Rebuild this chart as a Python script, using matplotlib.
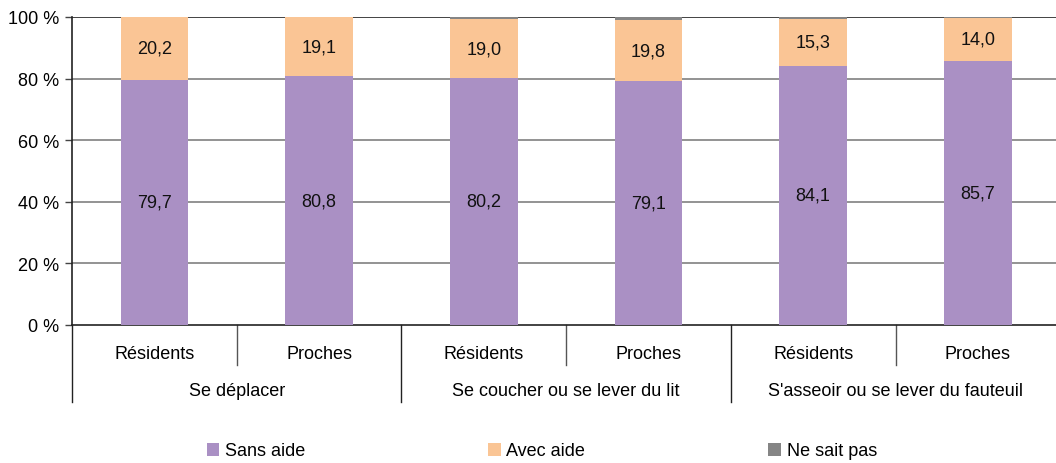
import matplotlib.pyplot as plt
from matplotlib import font_manager
from matplotlib.transforms import blended_transform_factory

# police étroite si disponible
names = {f.name for f in font_manager.fontManager.ttflist}
narrow = 'Liberation Sans Narrow' if 'Liberation Sans Narrow' in names else 'Liberation Sans'
plt.rcParams['font.family'] = [narrow, 'DejaVu Sans']
plt.rcParams['font.size'] = 13

groupes = ["Se déplacer", "Se coucher ou se lever du lit", "S'asseoir ou se lever du fauteuil"]
sous_cat = ["Résidents", "Proches"] * 3
sans_aide = [79.7, 80.8, 80.2, 79.1, 84.1, 85.7]
avec_aide = [20.2, 19.1, 19.0, 19.8, 15.3, 14.0]
ne_sait_pas = [0.1, 0.1, 0.8, 1.1, 0.6, 0.3]

fig = plt.figure(figsize=(10.56, 4.64), dpi=100)
ax = fig.add_axes([72 / 1056, 1 - 326 / 464, 1 - 72 / 1056 + 0.004, 308 / 464])

x = list(range(len(sous_cat)))
w = 0.41
b1 = ax.bar(x, sans_aide, w, color='#AA90C4', label='Sans aide', zorder=3)
b2 = ax.bar(x, avec_aide, w, bottom=sans_aide, color='#FAC595', label='Avec aide', zorder=3)
bas3 = [a + b for a, b in zip(sans_aide, avec_aide)]
b3 = ax.bar(x, ne_sait_pas, w, bottom=bas3, color='#858585', label='Ne sait pas', zorder=3)

# valeurs dans les barres
for i in x:
    ax.text(i, sans_aide[i] / 2, f"{sans_aide[i]:.1f}".replace('.', ','),
            ha='center', va='center', color='#111111', zorder=4)
    ax.text(i, sans_aide[i] + avec_aide[i] / 2, f"{avec_aide[i]:.1f}".replace('.', ','),
            ha='center', va='center', color='#111111', zorder=4)

ax.set_xlim(-0.5, 5.5)
ax.set_ylim(0, 100)
ax.set_yticks([0, 20, 40, 60, 80, 100])
ax.set_yticklabels([f"{v} %" for v in [0, 20, 40, 60, 80, 100]])
for v in [20, 40, 60, 80]:
    ax.axhline(v, color='#808080', lw=1.2, zorder=1)
ax.axhline(100, color='#222222', lw=1.2, zorder=1)
ax.tick_params(axis='y', length=5, width=1, color='#444444', pad=4, labelsize=13)
ax.set_xticks([])
for s in ['top', 'right']:
    ax.spines[s].set_visible(False)
for s in ['left', 'bottom']:
    ax.spines[s].set_color('#222222')
    ax.spines[s].set_linewidth(1.2)

# axe des catégories à deux niveaux
tr = blended_transform_factory(ax.transData, ax.transAxes)
for i, lab in enumerate(sous_cat):
    ax.text(i, -0.094, lab, transform=tr, ha='center', va='center')
for g, lab in enumerate(groupes):
    ax.text(2 * g + 0.5, -0.214, lab, transform=tr, ha='center', va='center')
for xs in [0.5, 2.5, 4.5]:
    ax.plot([xs, xs], [0, -0.13], transform=tr, color='#555555', lw=1, clip_on=False)
for xs in [-0.5, 1.5, 3.5, 5.5]:
    ax.plot([xs, xs], [0, -0.25], transform=tr, color='#222222', lw=1, clip_on=False)

fig.legend(handles=[b1, b2, b3], loc='center', bbox_to_anchor=(0.513, 1 - 452 / 464),
           ncol=3, frameon=False, fontsize=13, handlelength=0.7, handleheight=0.7,
           handletextpad=0.3, columnspacing=10.15)

fig.savefig('out.png', dpi=100)
